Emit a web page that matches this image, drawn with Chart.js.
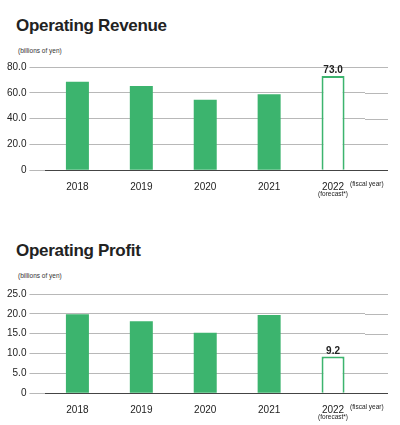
<!DOCTYPE html>
<html><head>
<script src="https://cdn.jsdelivr.net/npm/chart.js@4"></script>
<style>
body{margin:0;width:400px;height:425px;background:#fff;font-family:"Liberation Sans",Arial,sans-serif;position:relative;overflow:hidden}
.t{position:absolute;left:16px;font-size:17px;font-weight:bold;color:#222;letter-spacing:-0.3px}
.u{position:absolute;left:18px;font-size:6.5px;color:#333}
.c{position:absolute;left:0;width:400px}
</style></head><body>
<div class="t" style="top:16px">Operating Revenue</div>
<div class="u" style="top:47px">(billions of yen)</div>
<div class="c" style="top:58px;height:146px"><canvas id="rev"></canvas></div>
<div class="t" style="top:241px">Operating Profit</div>
<div class="u" style="top:272px">(billions of yen)</div>
<div class="c" style="top:285px;height:142px"><canvas id="prof"></canvas></div>
<script>
const years = ['2018','2019','2020','2021','2022']
const revenue = [68.5, 65.2, 54.6, 58.8, 73.0]
const profit = [19.9, 18.1, 15.2, 19.7, 9.2]
const revTicks = ['0', '20.0', '40.0', '60.0', '80.0']
const profTicks = ['0', '5.0', '10.0', '15.0', '20.0', '25.0']
const green = '#3cb46e'

const extras = {
    id: 'extras',
    beforeDatasetsDraw(chart) {
        // stretch the grid lines out to the right edge like the print layout
        const c = chart.ctx, y = chart.scales.y, area = chart.chartArea
        c.save()
        y.ticks.forEach(t => {
            const py = Math.round(y.getPixelForValue(t.value)) + 0.5
            c.strokeStyle = t.value === 0 ? '#444' : '#999'
            c.lineWidth = t.value === 0 ? 1 : 0.7
            c.beginPath(); c.moveTo(area.right, py); c.lineTo(388, py); c.stroke()
        })
        c.restore()
    },
    afterDraw(chart) {
        const c = chart.ctx, x = chart.scales.x, area = chart.chartArea
        const meta = chart.getDatasetMeta(0)
        c.save()
        c.fillStyle = '#222'
        c.font = 'bold 10px "Liberation Sans"'
        c.textAlign = 'center'
        const last = meta.data[4]
        c.fillText(chart.data.datasets[0].data[4].toFixed(1), last.x, last.y - 3)
        c.font = '6.5px "Liberation Sans"'
        c.textAlign = 'left'
        c.fillText('(fiscal year)', x.getPixelForValue(4) + 17, area.bottom + 16)
        c.textAlign = 'center'
        c.fillText('(forecast*)', x.getPixelForValue(4), area.bottom + 26)
        c.restore()
    }
}

const makeChart = (id, data, ticks, step) => {
    new Chart(document.getElementById(id), {
        type: 'bar',
        data: {
            labels: years,
            datasets: [{
                data: data,
                backgroundColor: data.map((v, i) => i === 4 ? '#fff' : green),
                borderColor: green,
                borderWidth: data.map((v, i) => i === 4 ? 2 : 0),
                barPercentage: 0.5,
                categoryPercentage: 0.72
            }]
        },
        options: {
            animation: false,
            responsive: true,
            maintainAspectRatio: false,
            layout: {padding: {left: 4, right: 35, top: 6, bottom: 8}},
            plugins: {legend: {display: false}, tooltip: {enabled: false}},
            scales: {
                x: {
                    grid: {display: false},
                    border: {color: '#444'},
                    ticks: {color: '#222', font: {size: 10, family: 'Liberation Sans'}}
                },
                y: {
                    min: 0,
                    max: step * (ticks.length - 1),
                    ticks: {stepSize: step, color: '#222', font: {size: 10, family: 'Liberation Sans'},
                        callback: (v, i) => ticks[i]},
                    grid: {color: '#999', lineWidth: 0.7, drawTicks: true, tickLength: 16},
                    border: {display: false}
                }
            }
        },
        plugins: [extras]
    })
}

makeChart('rev', revenue, revTicks, 20)
makeChart('prof', profit, profTicks, 5)
</script>
</body></html>
